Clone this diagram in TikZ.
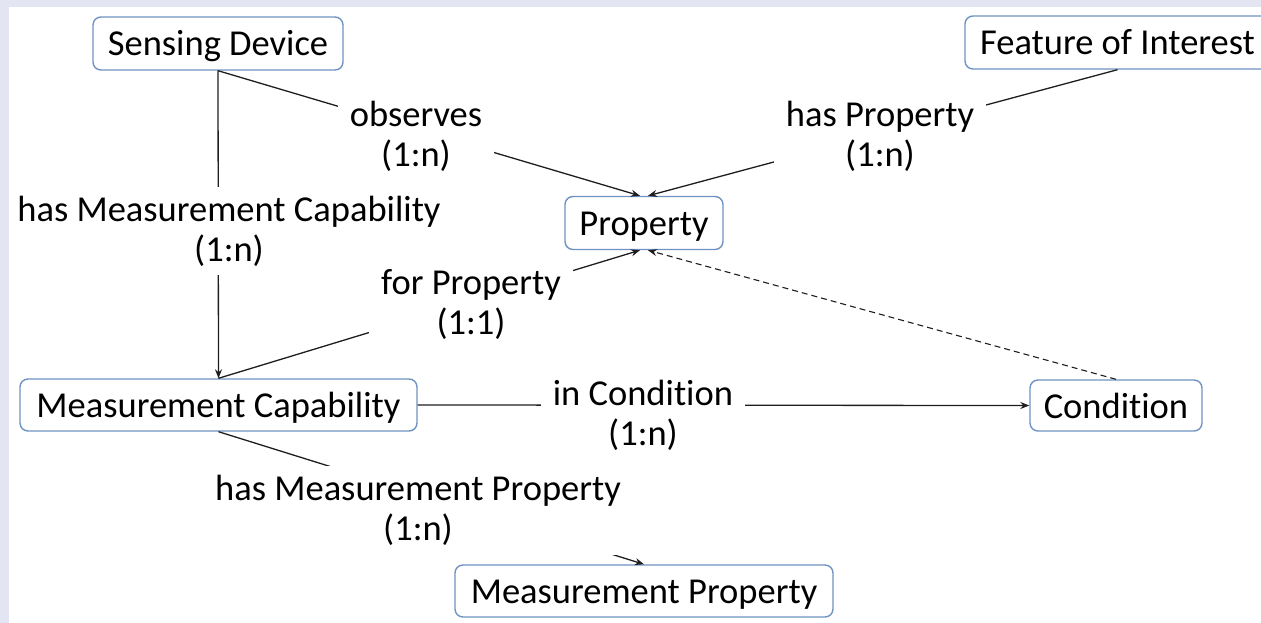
\documentclass[tikz,border=0pt]{standalone}
\usepackage{fontspec}
\setmainfont{Carlito}[Ligatures=NoCommon]
\usetikzlibrary{arrows.meta}
\definecolor{boxblue}{HTML}{6F93C2}
\definecolor{framebg}{HTML}{E3E5F3}
\definecolor{ink}{HTML}{1E1E1E}
\begin{document}
\begin{tikzpicture}[x=1pt,y=-1pt,
  font=\fontsize{36.5}{40}\selectfont,
  entity/.style={draw=boxblue, line width=1.4pt, rounded corners=8pt, fill=white,
    minimum height=53pt, inner xsep=0pt, text height=27pt, text depth=2pt, text=black},
  rel/.style={draw=ink, line width=1.3pt, -{Stealth[length=9pt,width=7pt]}},
  tag/.style={fill=white, align=center, inner xsep=12pt, inner ysep=9pt, text=black}
]
\useasboundingbox (0,0) rectangle (1261,623);

% concepts
\node[entity, minimum width=250pt] (sd) at (218,43.5) {Sensing Device};
\node[entity, minimum width=305pt] (foi) at (1117.5,42.5) {Feature of Interest};
\node[entity, minimum width=158pt] (prop) at (644,223) {Property};
\node[entity, minimum width=397pt, minimum height=52pt] (mc) at (218.5,405) {Measurement Capability};
\node[entity, minimum width=172pt, minimum height=51pt] (cond) at (1116,405.5) {Condition};
\node[entity, minimum width=378pt, minimum height=52pt] (mp) at (644,591) {Measurement Property};

% relations
\draw[rel] (sd.south) -- (mc.north);
\draw[rel] (sd.south) -- ([xshift=-4pt]prop.north);
\draw[rel] (foi.south) -- ([xshift=4pt]prop.north);
\draw[rel] (mc.north) -- ([xshift=-4pt]prop.south);
\draw[rel] (mc.east) -- (cond.west);
\draw[rel, dash pattern=on 6pt off 4pt, line width=1.1pt] (cond.north) -- ([xshift=4pt]prop.south);
\draw[rel] (mc.south) -- (mp.north);

% relation labels
\node[tag] (l1) at (229,231) {has Measurement Capability\\(1:n)};
\node[tag] (l2) at (416,136) {observes\\(1:n)};
\node[tag] (l3) at (880,136) {has Property\\(1:n)};
\node[tag] (l4) at (471,304.5) {for Property\\(1:1)};
\node[tag] (l5) at (643,415) {in Condition\\(1:n)};
\node[tag] (l6) at (418,510.5) {has Measurement Property\\(1:n)};

% page frame strips along the top and left edges
\fill[framebg] (0,0) rectangle (1261,7);
\fill[framebg] (0,0) rectangle (9,623);
\end{tikzpicture}
\end{document}
